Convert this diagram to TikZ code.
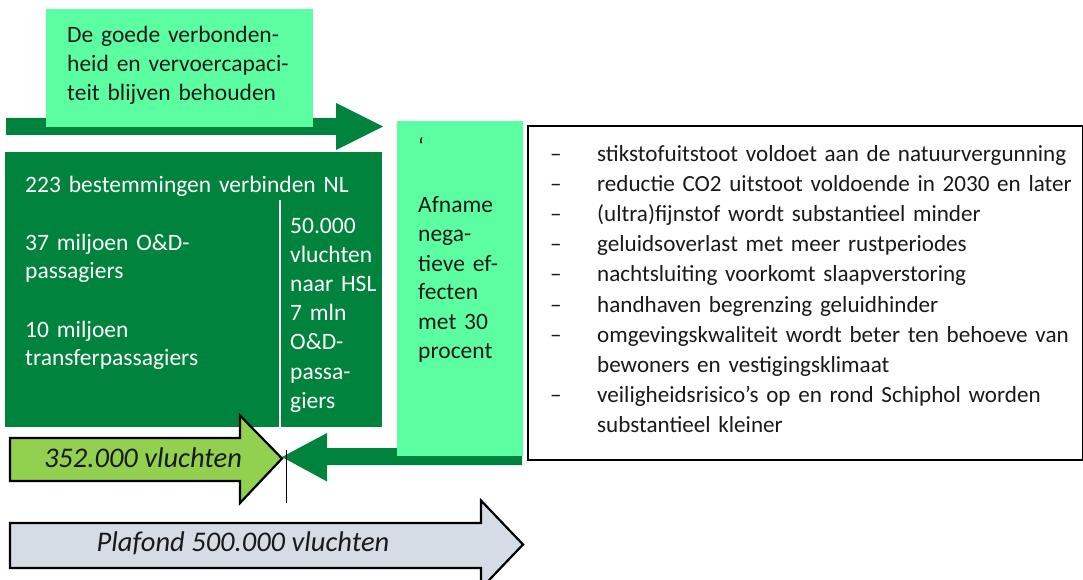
\documentclass[tikz,border=0pt]{standalone}
\usepackage{fontspec}
\setmainfont{Carlito}
\usepackage{xcolor}
\usetikzlibrary{positioning}
\definecolor{hubgreen}{HTML}{00843D}
\definecolor{mintgreen}{HTML}{5BFFA2}
\definecolor{limegreen}{HTML}{92D050}
\definecolor{capgray}{HTML}{D6DCE5}
\definecolor{inktext}{HTML}{1A1A1A}
\tikzset{
  panel/.style={draw=none, inner sep=0pt, anchor=north west},
  txt/.style={inner sep=0pt, anchor=base west, align=left, font=\fontsize{23.5}{28.7}\selectfont, text=inktext},
  bigtxt/.style={inner sep=0pt, anchor=base, font=\fontsize{28.5}{34}\selectfont\itshape, text=inktext}
}

\begin{document}
\begin{tikzpicture}[x=1pt, y=-1pt,
    hub/.style={panel, fill=hubgreen},
    mint/.style={panel, fill=mintgreen},
    listbox/.style={panel, draw=black, line width=2pt, fill=white},
    hubtxt/.style={txt, text=white},
    listtxt/.style={txt, font=\fontsize{23.1}{30.2}\selectfont},
    flow/.style={fill=hubgreen},
    blockarrow/.style={draw=black, line width=2.2pt, line join=miter}
  ]
    \path[use as bounding box] (0,0) rectangle (1083,580);

    % top arrow with goal box
    \fill[flow] (6,118) -- (336,118) -- (336,103) -- (383,126.5) -- (336,150) -- (336,135) -- (6,135) -- cycle;
    \node[mint, minimum width=267, minimum height=118] (goal) at (46,9) {};
    \node[txt, text width=250] (goaltxt) at (67,43) {De goede verbonden-\\heid en vervoercapaci-\\teit blijven behouden};

    % hub block
    \node[hub, minimum width=377, minimum height=275] (hub) at (5,152) {};
    \node[hubtxt, text width=360] (dest) at (25,192) {223 bestemmingen verbinden NL};
    \node[hubtxt, text width=250] (od) at (25,250) {37 miljoen O\&D-\\passagiers};
    \node[hubtxt, text width=250] (transfer) at (25,337) {10 miljoen\\transferpassagiers};
    \node[hubtxt, text width=100, font=\fontsize{23.5}{29.2}\selectfont] (hsl) at (290,233) {50.000\\vluchten\\naar HSL\\7 mln\\O\&D-\\passa-\\giers};
    \draw[white, line width=1.2pt] (280,200) -- (280,427);

    % reduction arrow behind effect box
    \fill[flow] (282,457) -- (327,433) -- (327,448) -- (522,448) -- (522,465) -- (327,465) -- (327,481.5) -- cycle;
    \node[mint, minimum width=126, minimum height=335] (effect) at (397,121) {};
    \node[txt, text width=100, font=\fontsize{23.5}{29}\selectfont] (effecttxt) at (418,155) {‘\\[29pt]Afname\\nega-\\tieve ef-\\fecten\\met 30\\procent};

    % list of effects
    \node[listbox, minimum width=555, minimum height=334] (effects) at (527,125) {};
    \node[listtxt, text width=30] (dashes) at (550,161) {–\\–\\–\\–\\–\\–\\–\\[30.2pt]–};
    \node[listtxt, text width=540] (items) at (597,161) {stikstofuitstoot voldoet aan de natuurvergunning\\reductie CO2 uitstoot voldoende in 2030 en later\\(ultra)fijnstof wordt substantieel minder\\geluidsoverlast met meer rustperiodes\\nachtsluiting voorkomt slaapverstoring\\handhaven begrenzing geluidhinder\\omgevingskwaliteit wordt beter ten behoeve van\\bewoners en vestigingsklimaat\\veiligheidsrisico’s op en rond Schiphol worden\\substantieel kleiner};

    % flight arrows
    \draw[blockarrow, fill=limegreen] (10,438) -- (240,438) -- (240,415.5) -- (282,458.5) -- (240,503) -- (240,481) -- (10,481) -- cycle;
    \node[bigtxt] (current) at (143,467) {352.000 vluchten};
    \draw[blockarrow, fill=capgray] (10,523) -- (481,523) -- (481,500.5) -- (523,544.5) -- (481,588.5) -- (481,568) -- (10,568) -- cycle;
    \node[bigtxt] (ceiling) at (243,551.5) {Plafond 500.000 vluchten};
    \draw[black, line width=0.8pt] (286.5,450) -- (286.5,503);
  \end{tikzpicture}
\end{document}
